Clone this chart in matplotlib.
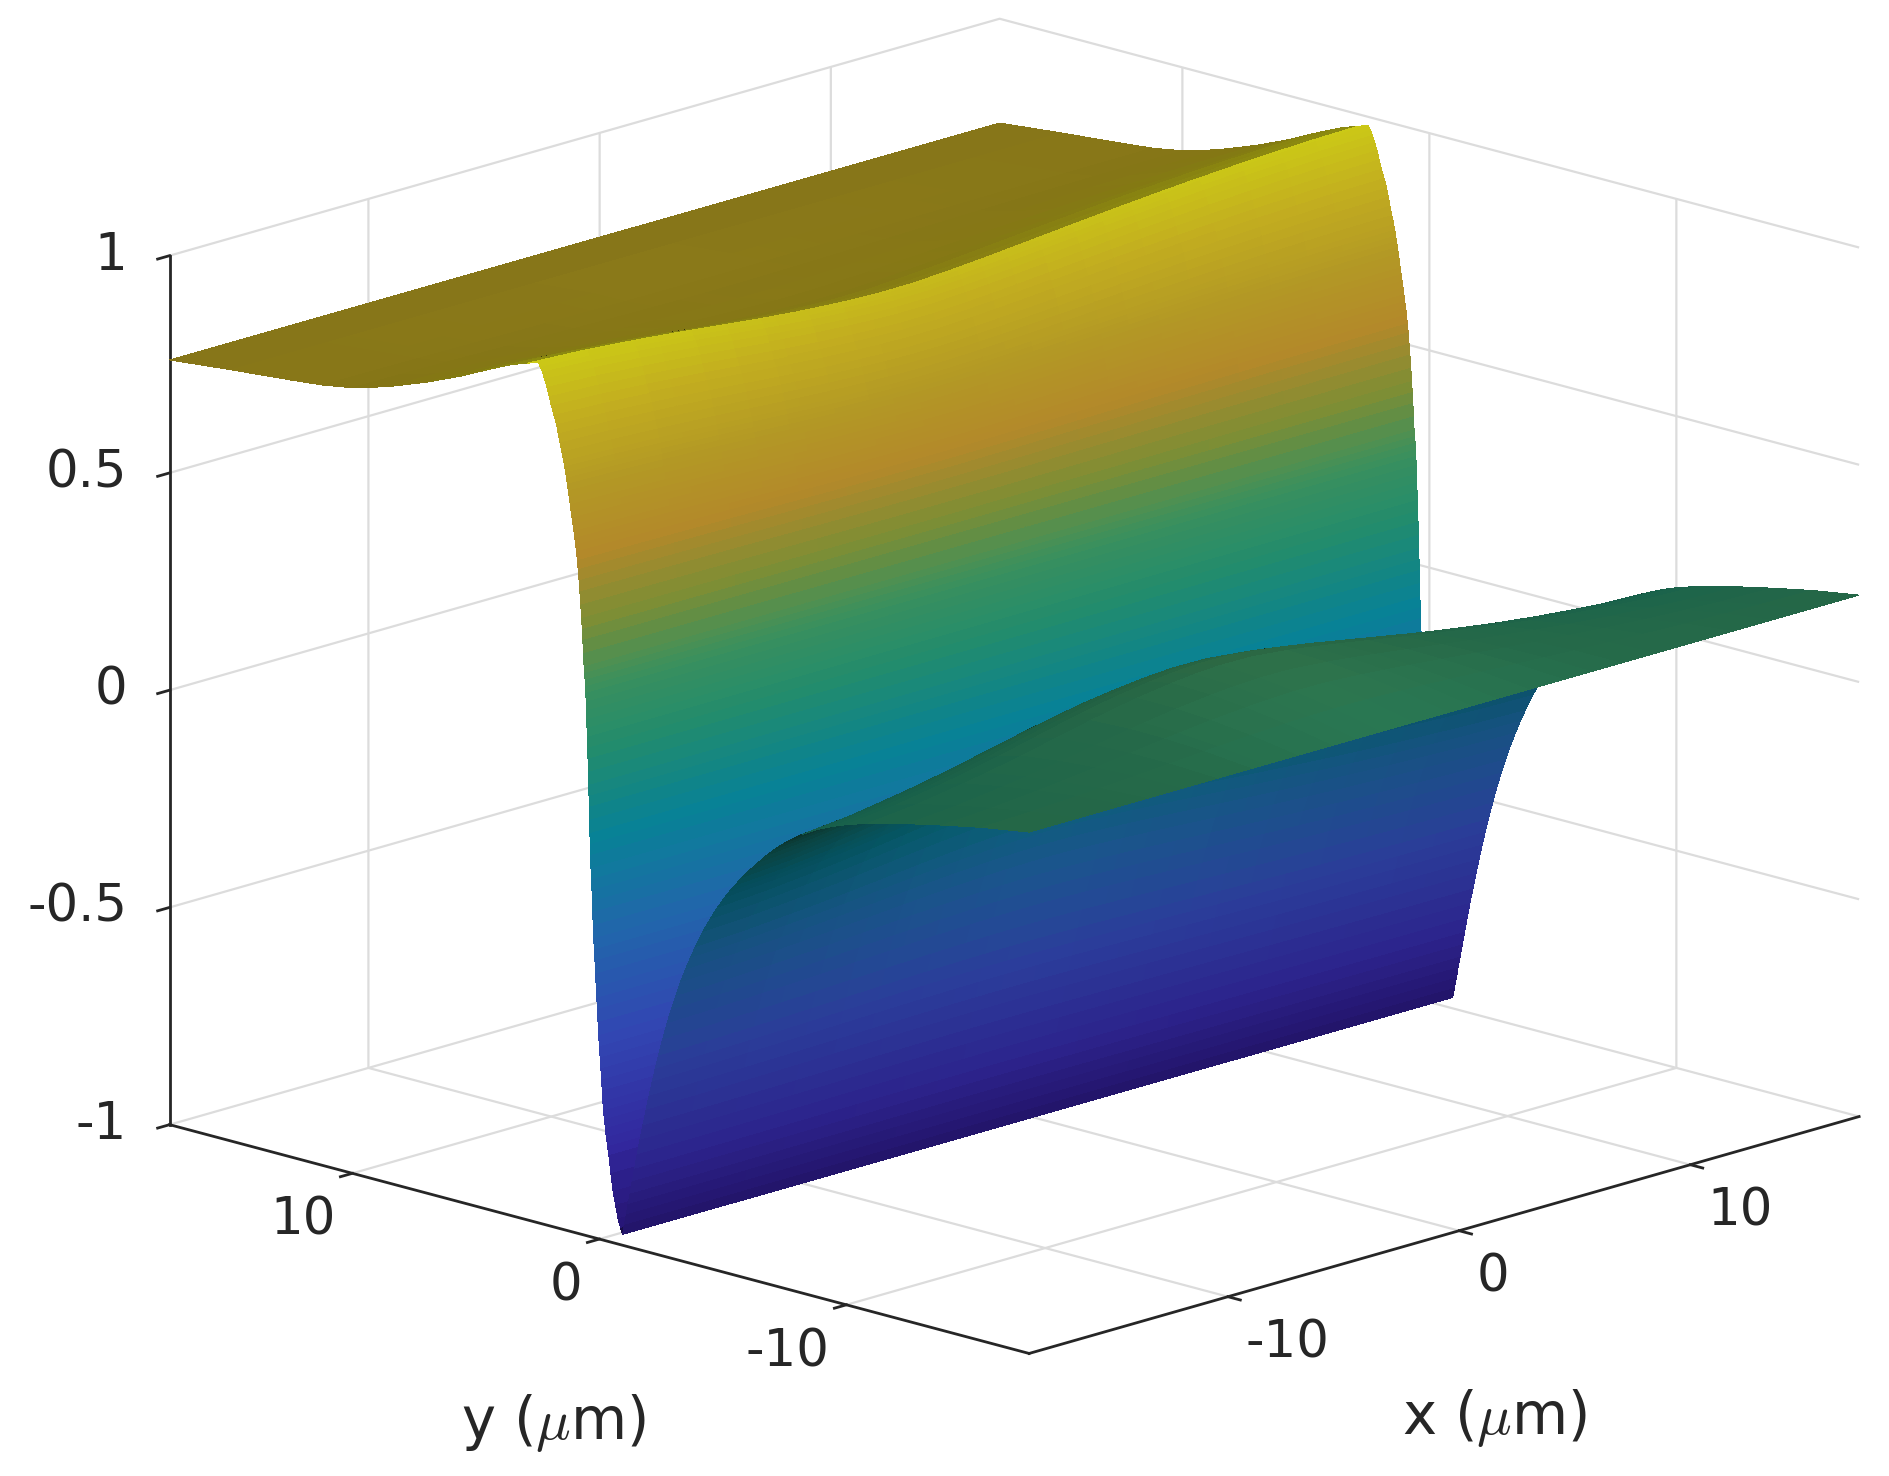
# surface z(x,y) with the wall near y = 0, shaded by height and by a light
import numpy as np
import matplotlib
matplotlib.use('Agg')
import matplotlib.pyplot as plt
from matplotlib.colors import LinearSegmentedColormap

plt.rcParams['font.family'] = 'DejaVu Sans'
plt.rcParams['axes.unicode_minus'] = False
plt.rcParams['mathtext.fontset'] = 'cm'
plt.rcParams['xtick.major.width'] = 2
plt.rcParams['ytick.major.width'] = 2

# profile across the wall, read off the x = xmin edge, in four stretches
# front sheet and its underside, y < -0.9
front_y = [-17.4, -15.5, -13.9, -12.5, -10.9, -10.0, -9.5, -9.0, -8.6, -8.2,
           -7.85, -7.5, -7.15, -6.8, -6.45, -6.1, -5.8, -5.5, -5.3, -5.1,
           -4.8, -4.5, -4.2, -3.9, -3.7, -3.5, -3.3, -3.1, -2.92, -2.75,
           -2.57, -2.4, -2.27, -2.15, -2.02, -1.9, -1.77, -1.65, -1.54, -1.43,
           -1.34, -1.25, -1.17, -1.1, -1.02, -0.94]
front_z = [0.20, 0.182, 0.163, 0.145, 0.122, 0.105, 0.094, 0.081, 0.069, 0.055,
           0.041, 0.025, 0.007, -0.013, -0.035, -0.058, -0.079, -0.102, -0.118, -0.135,
           -0.163, -0.194, -0.228, -0.267, -0.295, -0.325, -0.357, -0.392, -0.426, -0.46,
           -0.50, -0.54, -0.572, -0.603, -0.638, -0.672, -0.71, -0.745, -0.78, -0.815,
           -0.845, -0.875, -0.90, -0.925, -0.95, -0.975]
front_w = [0.0, 0.3, 0.55, 0.75, 0.95, 1.0, 1.0, 1.0, 0.98, 0.95,
           0.92, 0.9, 0.87, 0.85, 0.82, 0.8, 0.75, 0.7, 0.67, 0.65,
           0.6, 0.55, 0.5, 0.45, 0.41, 0.38, 0.34, 0.3, 0.26, 0.22,
           0.18, 0.15, 0.13, 0.11, 0.09, 0.08, 0.06, 0.05, 0.04, 0.03,
           0.025, 0.02, 0.015, 0.01, 0.005, 0.0]

# lower part of the wall
wall_low_y = [-0.85, -0.75, -0.65, -0.55, -0.46, -0.38, -0.33, -0.28, -0.24, -0.2,
              -0.17, -0.14, -0.115, -0.09, -0.06, -0.03, 0.0, 0.03, 0.055, 0.08,
              0.105, 0.13, 0.155, 0.18, 0.205, 0.23, 0.25, 0.27, 0.285, 0.30,
              0.32, 0.34, 0.355, 0.37, 0.385, 0.40, 0.41, 0.42, 0.435, 0.45,
              0.46, 0.47, 0.485, 0.50, 0.51, 0.52, 0.535, 0.55, 0.565, 0.58,
              0.60, 0.62, 0.645, 0.67]
wall_low_z = [-0.96, -0.94, -0.91, -0.88, -0.84, -0.80, -0.78, -0.76, -0.74, -0.72,
              -0.70, -0.68, -0.655, -0.63, -0.605, -0.58, -0.555, -0.53, -0.50, -0.47,
              -0.445, -0.42, -0.39, -0.36, -0.335, -0.31, -0.28, -0.25, -0.225, -0.20,
              -0.175, -0.15, -0.12, -0.095, -0.07, -0.04, -0.01, 0.015, 0.04, 0.07,
              0.10, 0.125, 0.15, 0.17, 0.19, 0.21, 0.23, 0.25, 0.265, 0.28,
              0.295, 0.31, 0.34, 0.37]

# upper part of the wall, up to the ridge
wall_high_y = [0.695, 0.72, 0.755, 0.79, 0.825, 0.86, 0.895, 0.93, 0.965, 1.0,
               1.035, 1.07, 1.11, 1.15, 1.185, 1.22, 1.26, 1.3, 1.335, 1.37,
               1.41, 1.45, 1.525, 1.6, 1.67, 1.74, 1.845, 1.95, 2.04, 2.13,
               2.215, 2.3, 2.385, 2.47]
wall_high_z = [0.395, 0.42, 0.45, 0.48, 0.505, 0.53, 0.55, 0.57, 0.585, 0.60,
               0.615, 0.63, 0.645, 0.66, 0.675, 0.69, 0.705, 0.72, 0.733, 0.745,
               0.758, 0.77, 0.79, 0.81, 0.83, 0.85, 0.87, 0.89, 0.91, 0.93,
               0.945, 0.96, 0.97, 0.98]
wall_high_w = [-0.01, -0.02, -0.03, -0.04, -0.05, -0.06, -0.07, -0.08, -0.09, -0.1,
               -0.115, -0.13, -0.145, -0.16, -0.175, -0.19, -0.205, -0.22, -0.235, -0.25,
               -0.265, -0.28, -0.305, -0.33, -0.355, -0.38, -0.40, -0.42, -0.44, -0.46,
               -0.47, -0.48, -0.49, -0.5]

# back sheet behind the ridge
back_y = [2.9, 3.5, 4.7, 5.65, 7.0, 8.57, 10.0, 11.2, 12.5, 14.9, 17.4]
back_z = [0.972, 0.96, 0.928, 0.90, 0.866, 0.832, 0.808, 0.796, 0.788, 0.775, 0.76]
back_w = [-0.5, -0.5, -0.48, -0.42, -0.3, -0.2, -0.1, -0.05, 0.0, 0.0, 0.0]

# lift along x, weighted by the *_w lists above
x_stations = [-18.6, -16.5, -14.5, -13.5, -12.0, -10.5, -9.0, -8.4, -7.0, -5.5, -4.5,
              -3.4, -2.0, -0.5, 0.5, 1.6, 3.0, 4.5, 5.7, 7.0, 8.5, 10.0, 11.8,
              13.5, 15.0, 17.3]
x_lift = [0.0, 0.012, 0.03, 0.04, 0.057, 0.076, 0.095, 0.102, 0.117, 0.129, 0.135,
          0.139, 0.138, 0.129, 0.121, 0.111, 0.097, 0.082, 0.07, 0.058, 0.045, 0.033, 0.021,
          0.012, 0.005, 0.0]

x_ticks = [-10, 0, 10]
y_ticks = [-10, 0, 10]
z_ticks = [-1, -0.5, 0, 0.5, 1]
z_tick_labels = ['-1', '-0.5', '0', '0.5', '1']

# colours seen on the steep part of the wall, by height
color_z = [-1, -0.8, -0.55, -0.3, -0.1, 0.1, 0.25, 0.4, 0.55, 0.7, 0.85, 1]
color_rgb = [(0.14, 0.07, 0.42), (0.19, 0.15, 0.60), (0.19, 0.27, 0.68), (0.12, 0.40, 0.65),
             (0.03, 0.50, 0.58), (0.13, 0.54, 0.42), (0.22, 0.55, 0.36), (0.48, 0.54, 0.20),
             (0.68, 0.52, 0.16), (0.68, 0.58, 0.14), (0.74, 0.66, 0.12), (0.78, 0.78, 0.08)]

xs = np.array(x_stations)
ys = np.array(front_y + wall_low_y + wall_high_y + back_y)
z_profile = np.array(front_z + wall_low_z + wall_high_z + back_z)
lift_weight = np.array(front_w + [0.0] * len(wall_low_y) + wall_high_w + back_w)

X, Y = np.meshgrid(xs, ys)
Z = z_profile[:, None] + lift_weight[:, None] * np.array(x_lift)[None, :]

xlim = (-18.6, 17.3)
ylim = (-17.4, 17.4)
zlim = (-1, 1)
box = (1, 1, 0.7566)
elev, azim = 16, -136

# normals in box units, turned to the camera, for the light
dz_dy, dz_dx = np.gradient(Z, ys, xs)
sx = box[2] / 2 * (xlim[1] - xlim[0])
sy = box[2] / 2 * (ylim[1] - ylim[0])
n = np.stack([-dz_dx * sx, -dz_dy * sy, np.ones_like(Z)], axis=-1)
n = n / np.linalg.norm(n, axis=-1, keepdims=True)
cam = np.array([np.cos(np.radians(elev)) * np.cos(np.radians(azim)),
                np.cos(np.radians(elev)) * np.sin(np.radians(azim)),
                np.sin(np.radians(elev))])
n = n * np.sign(n @ cam)[..., None]
# light from the -y side and above; faces turned away from -y lose only a little
dot = 0.86 * np.maximum(-n[..., 1], 0) - 0.25 * np.maximum(n[..., 1], 0) + 0.5 * n[..., 2]
shade = np.clip(0.42 + 0.68 * dot, 0.24, 1.03)

cmap = LinearSegmentedColormap.from_list(
    'wall', [((z + 1) / 2, c) for z, c in zip(color_z, color_rgb)], N=512)
colors = cmap((Z + 1) / 2)
colors[..., :3] = np.clip(colors[..., :3] * shade[..., None], 0, 1)

fig = plt.figure(figsize=(18.9, 14.76), dpi=100)
ax = fig.add_axes([0.0272, 0.073, 1.0, 0.9], projection='3d')
ax.set_proj_type('ortho')
ax.view_init(elev=elev, azim=azim)
ax.set_box_aspect(box, zoom=1.4005)

surf = ax.plot_surface(X, Y, Z, facecolors=colors, rstride=1, cstride=1, shade=False,
                       linewidth=0, antialiased=False)
surf.set_clip_on(False)

ax.set_xlim(*xlim)
ax.set_ylim(*ylim)
ax.set_zlim(*zlim)
ax.set_xticks(x_ticks)
ax.set_yticks(y_ticks)
ax.set_zticks(z_ticks)
ax.set_zticklabels(z_tick_labels)
ax.tick_params(labelsize=37, colors='#262626')
ax.tick_params(axis='x', pad=2)
ax.tick_params(axis='y', pad=2)
ax.tick_params(axis='z', pad=4.5)
plt.setp(ax.get_xticklabels(), ha='left')
plt.setp(ax.get_yticklabels(), ha='right')
plt.setp(ax.get_zticklabels(), ha='right', va='center')

ax.set_xlabel(r'x ($\mu$m)', fontsize=41.5, color='#262626', labelpad=62, rotation=0)
ax.set_ylabel(r'y ($\mu$m)', fontsize=41.5, color='#262626', labelpad=62, rotation=0)
ax.xaxis.set_rotate_label(False)
ax.yaxis.set_rotate_label(False)
ax.xaxis._axinfo['label'].update(ha='right')
ax.yaxis._axinfo['label'].update(ha='left')

for axis in (ax.xaxis, ax.yaxis, ax.zaxis):
    axis.set_pane_color((1, 1, 1, 0))
    axis.pane.set_edgecolor((1, 1, 1, 0))
    axis.line.set_color('#262626')
    axis.line.set_linewidth(2)
    axis._axinfo['grid'].update(color='#dcdcdc', linewidth=1.6)
    axis._axinfo['tick'].update(inward_factor=0.18, outward_factor=0.0)

fig.savefig('out.png', dpi=100)
